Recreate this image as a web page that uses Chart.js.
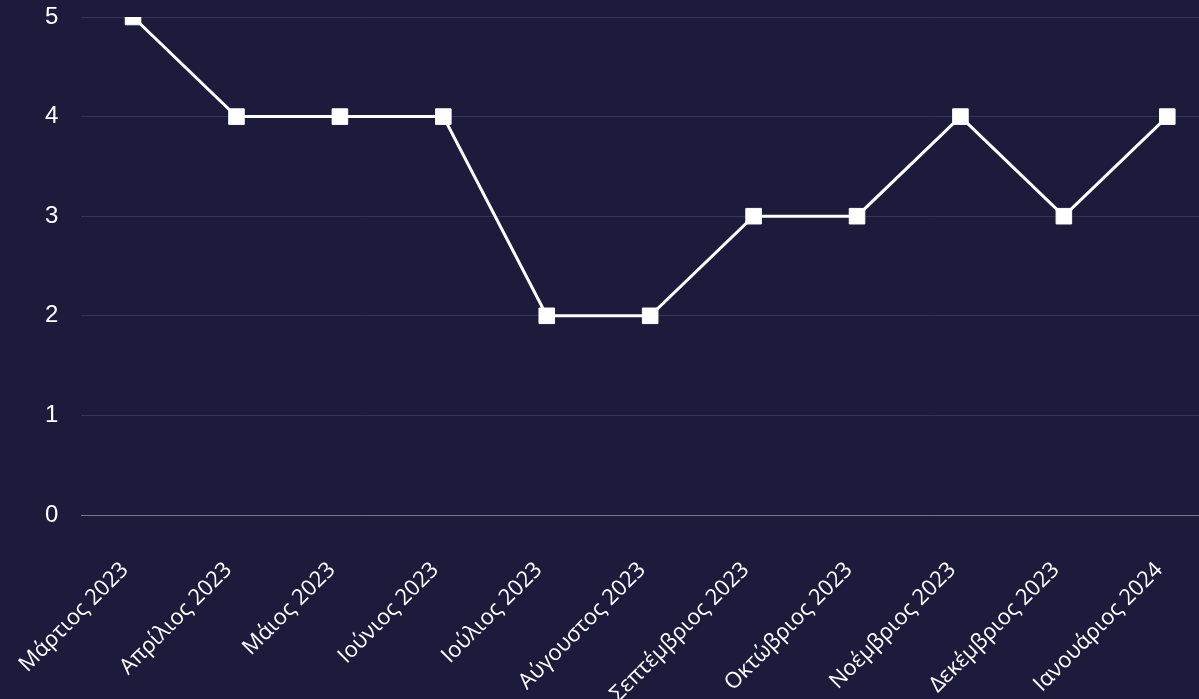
<!DOCTYPE html>
<html>
<head>
<meta charset="utf-8">
<script src="https://cdn.jsdelivr.net/npm/chart.js@4"></script>
<style>
  html, body { margin: 0; padding: 0; background: #1c1b3b; overflow: hidden; }
  #wrap { position: relative; width: 1231px; height: 699px; }
</style>
</head>
<body>
<div id="wrap"><canvas id="lineChart"></canvas></div>
<script>
const months = ['Μάρτιος 2023', 'Απρίλιος 2023', 'Μάιος 2023', 'Ιούνιος 2023', 'Ιούλιος 2023', 'Αύγουστος 2023',
    'Σεπτέμβριος 2023', 'Οκτώβριος 2023', 'Νοέμβριος 2023', 'Δεκέμβριος 2023', 'Ιανουάριος 2024'];
const counts = [5, 4, 4, 4, 2, 2, 3, 3, 4, 3, 4];
const yTicks = [0, 1, 2, 3, 4, 5];

const ctx = document.getElementById('lineChart').getContext('2d');

new Chart(ctx, {
    type: 'line',
    data: {
        labels: months,
        datasets: [{
            data: counts,
            borderColor: '#ffffff',
            backgroundColor: '#ffffff',
            borderWidth: 3,
            pointStyle: 'rect',
            pointRadius: 11,
            pointBorderWidth: 1,
            tension: 0
        }]
    },
    options: {
        responsive: true,
        maintainAspectRatio: false,
        animation: false,
        layout: { padding: { top: 17, left: 22, right: 0, bottom: 0 } },
        plugins: {
            legend: { display: false },
            tooltip: { enabled: false }
        },
        scales: {
            x: {
                offset: true,
                grid: { display: false, drawTicks: false },
                border: { display: false },
                afterFit: (axis) => {
                    axis.paddingLeft = 0;
                    axis.paddingRight = 0;
                    axis.height = 184;
                },
                ticks: {
                    color: '#ffffff',
                    font: { family: 'Open Sans', size: 22 },
                    maxRotation: 45,
                    minRotation: 45,
                    padding: 42,
                    labelOffset: -8,
                    autoSkip: false
                }
            },
            y: {
                min: 0,
                max: 5,
                afterBuildTicks: (axis) => { axis.ticks = yTicks.map(v => ({ value: v })); },
                afterFit: (axis) => {
                    axis.paddingTop = 0;
                    axis.paddingBottom = 0;
                },
                grid: {
                    drawTicks: false,
                    color: (c) => c.tick && c.tick.value === 0 ? 'rgba(255,255,255,0.4)' : 'rgba(255,255,255,0.12)'
                },
                border: { display: false },
                ticks: {
                    color: '#ffffff',
                    font: { family: 'Liberation Sans', size: 24 },
                    padding: 23
                }
            }
        }
    }
});
</script>
</body>
</html>
